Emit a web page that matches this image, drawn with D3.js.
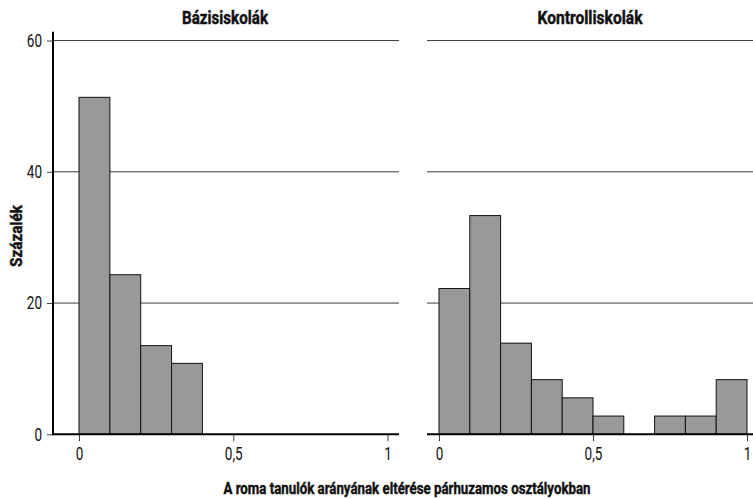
<!DOCTYPE html>
<html lang="hu">
<head>
<meta charset="UTF-8">
<title>Roma tanulók aránya</title>
<script src="https://d3js.org/d3.v7.min.js"></script>
<style>
  body { margin: 0; background: #fff; }
  svg text { font-family: Roboto, "DejaVu Sans", sans-serif; fill: #111; }
  .title { font-weight: bold; stroke: #111; stroke-width: 0.45px; }
</style>
</head>
<body>
<div id="chart"></div>
<script>
  // bin start values (width 0.1)
  const binStarts = [0, 0.1, 0.2, 0.3, 0.4, 0.5, 0.6, 0.7, 0.8, 0.9];
  const baseValues = [51.35, 24.32, 13.51, 10.81, 0, 0, 0, 0, 0, 0];
  const controlValues = [22.22, 33.33, 13.89, 8.33, 5.56, 2.78, 0, 2.78, 2.78, 8.33];
  const panelTitles = ["Bázisiskolák", "Kontrolliskolák"];
  const yTicks = [0, 20, 40, 60];
  const xTicks = [0, 0.5, 1];
  const binWidth = 0.1;

  const W = 753, H = 499;
  const svg = d3.select("#chart").append("svg")
    .attr("width", W).attr("height", H);

  // squeeze text horizontally to mimic a condensed face
  function condense(sel, factor) {
    sel.each(function () {
      const len = this.getComputedTextLength();
      d3.select(this).attr("textLength", len * factor).attr("lengthAdjust", "spacingAndGlyphs");
    });
  }

  const y = d3.scaleLinear().domain([0, 61.35]).range([434.3, 31.7]);

  // panel geometry: axis extent plus where 0 and 1 land
  const panels = [
    { left: 53, right: 399, zero: 79, one: 387.5, values: baseValues, yAxis: true, titleX: 225, titleW: 86 },
    { left: 427, right: 753, zero: 439, one: 747, values: controlValues, yAxis: false, titleX: 590, titleW: 105 }
  ];

  panels.forEach((p, i) => {
    const x = d3.scaleLinear().domain([0, 1]).range([p.zero, p.one]);
    const g = svg.append("g");

    // gridlines
    g.selectAll(".grid").data(yTicks.filter(d => d > 0)).enter().append("line")
      .attr("x1", p.left).attr("x2", p.right)
      .attr("y1", d => y(d)).attr("y2", d => y(d))
      .attr("stroke", "#3a3a3a").attr("stroke-width", 1);

    // bars
    const bins = binStarts.map((s, j) => ({ s: s, v: p.values[j] })).filter(d => d.v > 0);
    g.selectAll(".bar").data(bins).enter().append("rect")
      .attr("x", d => x(d.s))
      .attr("width", d => x(d.s + binWidth) - x(d.s))
      .attr("y", d => y(d.v))
      .attr("height", d => y(0) - y(d.v))
      .attr("fill", "#999")
      .attr("stroke", "#111").attr("stroke-width", 1);

    // x axis
    const xa = g.append("g").attr("transform", `translate(0,${y(0)})`)
      .call(d3.axisBottom(x).tickValues(xTicks).tickSize(7).tickPadding(6)
        .tickFormat(d => d3.format("")(d).replace(".", ",")));
    xa.select(".domain").remove();
    xa.selectAll(".tick line").attr("stroke", "#444");
    xa.selectAll(".tick text").attr("font-size", 18).attr("font-family", "Roboto, sans-serif").call(condense, 0.75);
    g.append("line")
      .attr("x1", p.left).attr("x2", p.right)
      .attr("y1", y(0)).attr("y2", y(0))
      .attr("stroke", "#000").attr("stroke-width", 2);

    if (p.yAxis) {
      const ya = g.append("g").attr("transform", `translate(${p.left},0)`)
        .call(d3.axisLeft(y).tickValues(yTicks).tickSize(6).tickPadding(5));
      ya.select(".domain").remove();
      ya.selectAll(".tick line").attr("stroke", "#444");
      ya.selectAll(".tick text").attr("font-size", 18).attr("font-family", "Roboto, sans-serif").call(condense, 0.75);
      g.append("line")
        .attr("x1", p.left).attr("x2", p.left)
        .attr("y1", y.range()[1]).attr("y2", y(0) + 1)
        .attr("stroke", "#000").attr("stroke-width", 2);
    }

    g.append("text").attr("class", "title")
      .attr("x", p.titleX).attr("y", 24)
      .attr("text-anchor", "middle")
      .attr("font-size", 19)
      .attr("textLength", p.titleW).attr("lengthAdjust", "spacingAndGlyphs")
      .text(panelTitles[i]);
  });

  svg.append("text").attr("class", "title")
    .attr("transform", "translate(22,236) rotate(-90)")
    .attr("text-anchor", "middle")
    .attr("font-size", 16)
    .attr("textLength", 62).attr("lengthAdjust", "spacingAndGlyphs")
    .text("Százalék");

  svg.append("text").attr("class", "title")
    .attr("x", 407).attr("y", 494)
    .attr("text-anchor", "middle")
    .attr("font-size", 17)
    .attr("textLength", 367).attr("lengthAdjust", "spacingAndGlyphs")
    .text("A roma tanulók arányának eltérése párhuzamos osztályokban");
</script>
</body>
</html>
